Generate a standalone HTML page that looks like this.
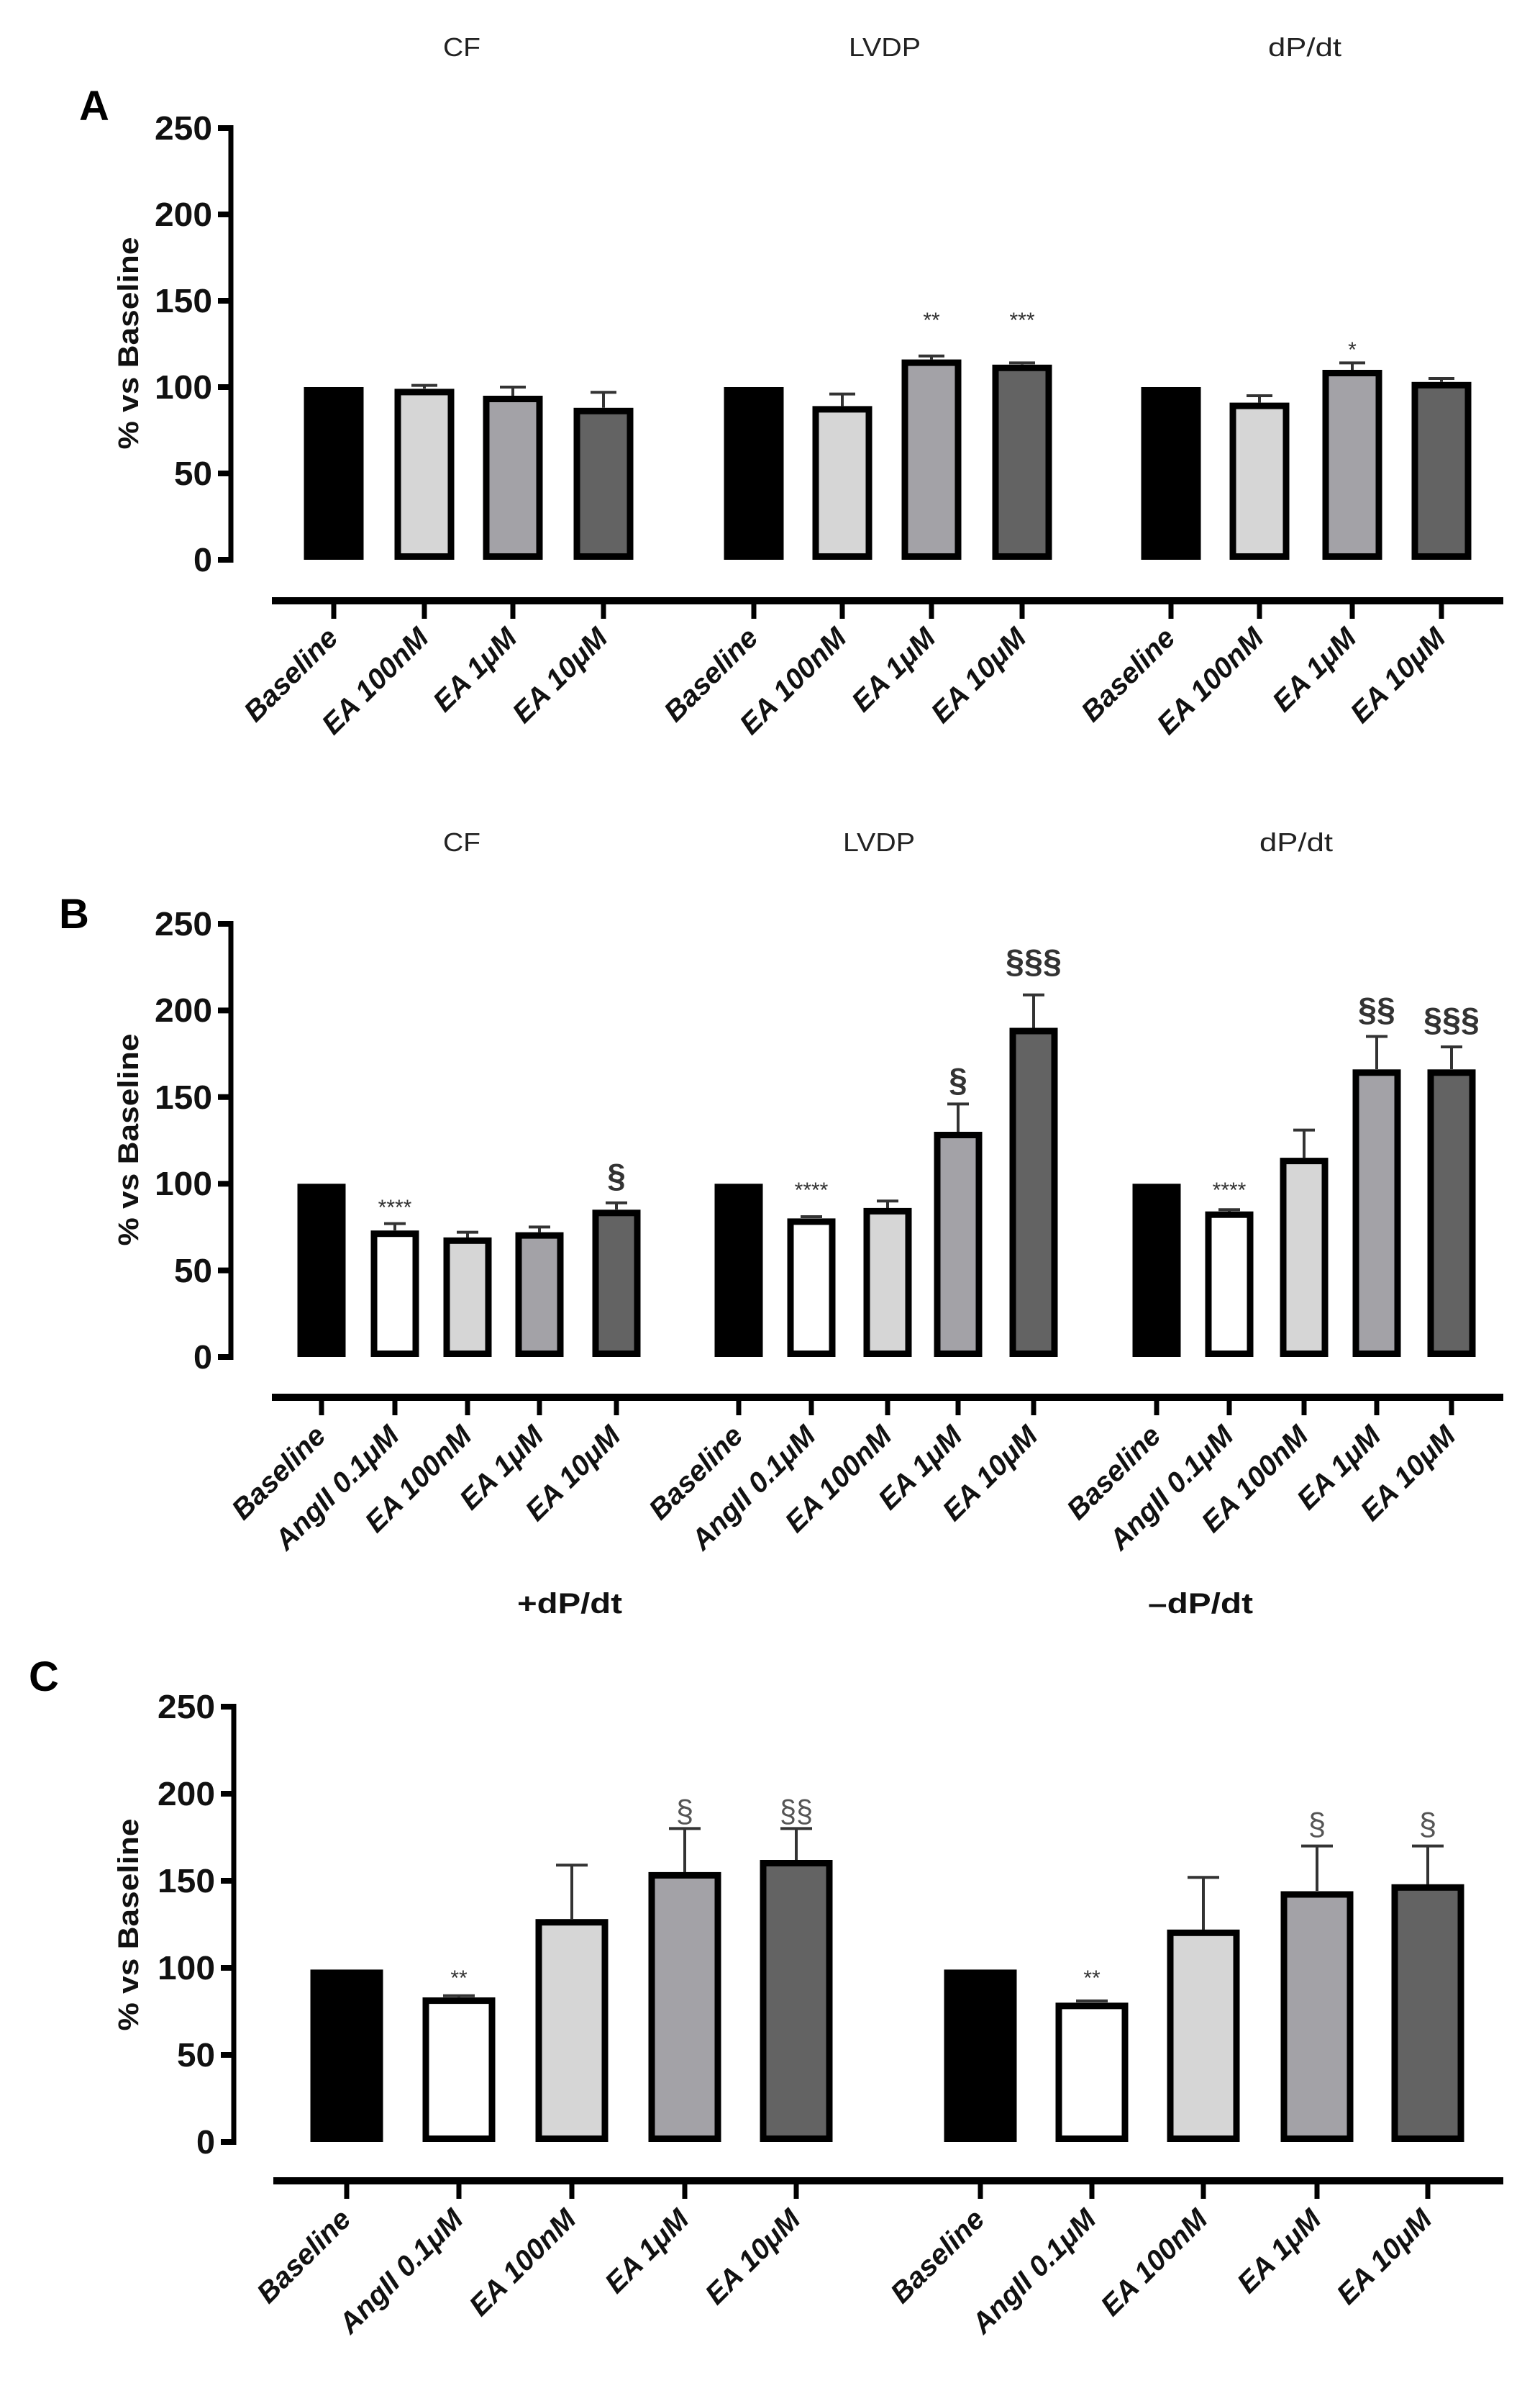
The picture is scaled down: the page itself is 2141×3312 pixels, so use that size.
<!DOCTYPE html>
<html><head><meta charset="utf-8"><style>html,body{margin:0;padding:0;background:#fff}svg{display:block}</style></head>
<body>
<svg width="2141" height="3312" viewBox="0 0 2141 3312" xmlns="http://www.w3.org/2000/svg" font-family="Liberation Sans, Arial, sans-serif">
<rect width="2141" height="3312" fill="#fff"/>

<!-- ================= PANEL A ================= -->
<g fill="#222" font-size="36">
<text x="642" y="78" text-anchor="middle" textLength="52" lengthAdjust="spacingAndGlyphs">CF</text>
<text x="1230" y="78" text-anchor="middle" textLength="100" lengthAdjust="spacingAndGlyphs">LVDP</text>
<text x="1814" y="78" text-anchor="middle" textLength="102" lengthAdjust="spacingAndGlyphs">dP/dt</text>
</g>
<text x="110" y="167" font-size="58" font-weight="bold">A</text>
<g stroke="#000" stroke-width="7"><line x1="321" y1="174" x2="321" y2="782"/></g>
<g stroke="#000" stroke-width="8">
<line x1="303" y1="778" x2="321" y2="778"/><line x1="303" y1="658" x2="321" y2="658"/><line x1="303" y1="538" x2="321" y2="538"/><line x1="303" y1="418" x2="321" y2="418"/><line x1="303" y1="298" x2="321" y2="298"/><line x1="303" y1="178" x2="321" y2="178"/>
</g>
<g font-size="46" font-weight="bold" fill="#111" text-anchor="end">
<text x="295" y="794" textLength="26" lengthAdjust="spacingAndGlyphs">0</text>
<text x="295" y="674" textLength="53" lengthAdjust="spacingAndGlyphs">50</text>
<text x="295" y="554" textLength="80" lengthAdjust="spacingAndGlyphs">100</text>
<text x="295" y="434" textLength="80" lengthAdjust="spacingAndGlyphs">150</text>
<text x="295" y="314" textLength="80" lengthAdjust="spacingAndGlyphs">200</text>
<text x="295" y="194" textLength="80" lengthAdjust="spacingAndGlyphs">250</text>
</g>
<text transform="translate(192,477) rotate(-90)" text-anchor="middle" font-size="40" font-weight="bold" fill="#111" textLength="295" lengthAdjust="spacingAndGlyphs">% vs Baseline</text>
<g stroke="#000" stroke-width="9">
<rect x="422.5" y="538" width="83" height="240" fill="#000" stroke="none"/>
<rect x="553" y="544.9" width="74" height="228.6" fill="#d6d6d6"/>
<rect x="676" y="554.5" width="74" height="219" fill="#a3a2a7"/>
<rect x="802" y="571.3" width="74" height="202.2" fill="#636363"/>
<rect x="1006.5" y="538" width="83" height="240" fill="#000" stroke="none"/>
<rect x="1134" y="568.9" width="74" height="204.6" fill="#d6d6d6"/>
<rect x="1258" y="504.1" width="74" height="269.4" fill="#a3a2a7"/>
<rect x="1384" y="511.3" width="74" height="262.2" fill="#636363"/>
<rect x="1586.5" y="538" width="83" height="240" fill="#000" stroke="none"/>
<rect x="1714" y="564.1" width="74" height="209.4" fill="#d6d6d6"/>
<rect x="1843" y="518.5" width="74" height="255" fill="#a3a2a7"/>
<rect x="1967" y="535.3" width="74" height="238.2" fill="#636363"/>
</g>
<g stroke="#333" stroke-width="4" fill="none">
<path d="M590 540V535.6M572 535.6H608"/>
<path d="M713 550V538M695 538H731"/>
<path d="M839 566.8V545.2M821 545.2H857"/>
<path d="M1171 564.4V547.6M1153 547.6H1189"/>
<path d="M1295 499.6V494.8M1277 494.8H1313"/>
<path d="M1421 506.8V504.4M1403 504.4H1439"/>
<path d="M1751 559.6V550M1733 550H1769"/>
<path d="M1880 514V504.4M1862 504.4H1898"/>
<path d="M2004 530.8V526M1986 526H2022"/>
</g>
<g font-size="30" fill="#333" text-anchor="middle">
<text x="1295" y="455">**</text><text x="1421" y="455">***</text><text x="1880" y="496">*</text>
</g>
<line x1="378" y1="835" x2="2090" y2="835" stroke="#000" stroke-width="10"/>
<g stroke="#000" stroke-width="7">
<path d="M464 835V860M590 835V860M713 835V860M839 835V860M1048 835V860M1171 835V860M1295 835V860M1421 835V860M1628 835V860M1751 835V860M1880 835V860M2004 835V860"/>
</g>
<g font-size="40" font-weight="bold" font-style="italic" fill="#111" text-anchor="end">
<text transform="translate(472,889) rotate(-45)">Baseline</text>
<text transform="translate(598,889) rotate(-45)">EA 100nM</text>
<text transform="translate(721,889) rotate(-45)">EA 1μM</text>
<text transform="translate(847,889) rotate(-45)">EA 10μM</text>
<text transform="translate(1056,889) rotate(-45)">Baseline</text>
<text transform="translate(1179,889) rotate(-45)">EA 100nM</text>
<text transform="translate(1303,889) rotate(-45)">EA 1μM</text>
<text transform="translate(1429,889) rotate(-45)">EA 10μM</text>
<text transform="translate(1636,889) rotate(-45)">Baseline</text>
<text transform="translate(1759,889) rotate(-45)">EA 100nM</text>
<text transform="translate(1888,889) rotate(-45)">EA 1μM</text>
<text transform="translate(2012,889) rotate(-45)">EA 10μM</text>
</g>

<!-- ================= PANEL B ================= -->
<g fill="#222" font-size="36">
<text x="642" y="1183" text-anchor="middle" textLength="52" lengthAdjust="spacingAndGlyphs">CF</text>
<text x="1222" y="1183" text-anchor="middle" textLength="100" lengthAdjust="spacingAndGlyphs">LVDP</text>
<text x="1802" y="1183" text-anchor="middle" textLength="102" lengthAdjust="spacingAndGlyphs">dP/dt</text>
</g>
<text x="82" y="1290" font-size="58" font-weight="bold">B</text>
<line x1="321" y1="1280" x2="321" y2="1890" stroke="#000" stroke-width="7"/>
<g stroke="#000" stroke-width="8">
<path d="M303 1886H321M303 1765.6H321M303 1645.2H321M303 1524.8H321M303 1404.4H321M303 1284H321"/>
</g>
<g font-size="46" font-weight="bold" fill="#111" text-anchor="end">
<text x="295" y="1902" textLength="26" lengthAdjust="spacingAndGlyphs">0</text>
<text x="295" y="1782" textLength="53" lengthAdjust="spacingAndGlyphs">50</text>
<text x="295" y="1661" textLength="80" lengthAdjust="spacingAndGlyphs">100</text>
<text x="295" y="1541" textLength="80" lengthAdjust="spacingAndGlyphs">150</text>
<text x="295" y="1420" textLength="80" lengthAdjust="spacingAndGlyphs">200</text>
<text x="295" y="1300" textLength="80" lengthAdjust="spacingAndGlyphs">250</text>
</g>
<text transform="translate(192,1584) rotate(-90)" text-anchor="middle" font-size="40" font-weight="bold" fill="#111" textLength="295" lengthAdjust="spacingAndGlyphs">% vs Baseline</text>
<g stroke="#000" stroke-width="9">
<rect x="413.5" y="1645.2" width="67" height="240.8" fill="#000" stroke="none"/>
<rect x="520" y="1714.7" width="58" height="166.8" fill="#fff"/>
<rect x="621" y="1724.3" width="58" height="157.2" fill="#d6d6d6"/>
<rect x="721" y="1717.1" width="58" height="164.4" fill="#a3a2a7"/>
<rect x="828" y="1685.8" width="58" height="195.7" fill="#636363"/>
<rect x="993.5" y="1645.2" width="67" height="240.8" fill="#000" stroke="none"/>
<rect x="1099" y="1697.9" width="58" height="183.6" fill="#fff"/>
<rect x="1205" y="1683.4" width="58" height="198.1" fill="#d6d6d6"/>
<rect x="1303" y="1577.5" width="58" height="304" fill="#a3a2a7"/>
<rect x="1408" y="1433" width="58" height="448.5" fill="#636363"/>
<rect x="1574.5" y="1645.2" width="67" height="240.8" fill="#000" stroke="none"/>
<rect x="1680" y="1688.2" width="58" height="193.3" fill="#fff"/>
<rect x="1784" y="1613.6" width="58" height="267.9" fill="#d6d6d6"/>
<rect x="1885" y="1490.8" width="58" height="390.7" fill="#a3a2a7"/>
<rect x="1989" y="1490.8" width="58" height="390.7" fill="#636363"/>
</g>
<g stroke="#333" stroke-width="4" fill="none">
<path d="M549 1710V1700.6M534 1700.6H564"/>
<path d="M650 1720V1712.6M635 1712.6H665"/>
<path d="M750 1712.6V1705.4M735 1705.4H765"/>
<path d="M857 1681V1671.7M842 1671.7H872"/>
<path d="M1128 1693V1691M1113 1691H1143"/>
<path d="M1234 1679V1669.3M1219 1669.3H1249"/>
<path d="M1332 1573V1534.4M1317 1534.4H1347"/>
<path d="M1437 1428.5V1382.7M1422 1382.7H1452"/>
<path d="M1709 1684V1681.3M1694 1681.3H1724"/>
<path d="M1813 1609V1570.6M1798 1570.6H1828"/>
<path d="M1914 1486V1440.5M1899 1440.5H1929"/>
<path d="M2018 1486V1455M2003 1455H2033"/>
</g>
<g font-size="30" fill="#333" text-anchor="middle">
<text x="549" y="1688">****</text><text x="1128" y="1664">****</text><text x="1709" y="1664">****</text>
</g>
<g font-size="46" font-weight="bold" fill="#333" text-anchor="middle">
<text x="857" y="1650">§</text><text x="1332" y="1517">§</text><text x="1437" y="1352" textLength="78" lengthAdjust="spacingAndGlyphs">§§§</text>
<text x="1914" y="1419" textLength="52" lengthAdjust="spacingAndGlyphs">§§</text><text x="2018" y="1433" textLength="78" lengthAdjust="spacingAndGlyphs">§§§</text>
</g>
<line x1="378" y1="1942" x2="2090" y2="1942" stroke="#000" stroke-width="10"/>
<g stroke="#000" stroke-width="7">
<path d="M447 1942V1967M549 1942V1967M650 1942V1967M750 1942V1967M857 1942V1967M1027 1942V1967M1128 1942V1967M1234 1942V1967M1332 1942V1967M1437 1942V1967M1608 1942V1967M1709 1942V1967M1813 1942V1967M1914 1942V1967M2018 1942V1967"/>
</g>
<g font-size="40" font-weight="bold" font-style="italic" fill="#111" text-anchor="end">
<text transform="translate(455,1998) rotate(-45)">Baseline</text>
<text transform="translate(557,1998) rotate(-45)">AngII 0.1μM</text>
<text transform="translate(658,1998) rotate(-45)">EA 100nM</text>
<text transform="translate(758,1998) rotate(-45)">EA 1μM</text>
<text transform="translate(865,1998) rotate(-45)">EA 10μM</text>
<text transform="translate(1035,1998) rotate(-45)">Baseline</text>
<text transform="translate(1136,1998) rotate(-45)">AngII 0.1μM</text>
<text transform="translate(1242,1998) rotate(-45)">EA 100nM</text>
<text transform="translate(1340,1998) rotate(-45)">EA 1μM</text>
<text transform="translate(1445,1998) rotate(-45)">EA 10μM</text>
<text transform="translate(1616,1998) rotate(-45)">Baseline</text>
<text transform="translate(1717,1998) rotate(-45)">AngII 0.1μM</text>
<text transform="translate(1821,1998) rotate(-45)">EA 100nM</text>
<text transform="translate(1922,1998) rotate(-45)">EA 1μM</text>
<text transform="translate(2026,1998) rotate(-45)">EA 10μM</text>
</g>

<!-- ================= PANEL C ================= -->
<g fill="#111" font-size="40" font-weight="bold" text-anchor="middle">
<text x="792" y="2242" textLength="146" lengthAdjust="spacingAndGlyphs">+dP/dt</text>
<text x="1669" y="2242" textLength="146" lengthAdjust="spacingAndGlyphs">–dP/dt</text>
</g>
<text x="40" y="2350" font-size="58" font-weight="bold">C</text>
<line x1="325" y1="2368" x2="325" y2="2981" stroke="#000" stroke-width="7"/>
<g stroke="#000" stroke-width="8">
<path d="M307 2977H325M307 2856H325M307 2735H325M307 2614H325M307 2493H325M307 2372H325"/>
</g>
<g font-size="46" font-weight="bold" fill="#111" text-anchor="end">
<text x="299" y="2993" textLength="26" lengthAdjust="spacingAndGlyphs">0</text>
<text x="299" y="2872" textLength="53" lengthAdjust="spacingAndGlyphs">50</text>
<text x="299" y="2751" textLength="80" lengthAdjust="spacingAndGlyphs">100</text>
<text x="299" y="2630" textLength="80" lengthAdjust="spacingAndGlyphs">150</text>
<text x="299" y="2509" textLength="80" lengthAdjust="spacingAndGlyphs">200</text>
<text x="299" y="2388" textLength="80" lengthAdjust="spacingAndGlyphs">250</text>
</g>
<text transform="translate(192,2675) rotate(-90)" text-anchor="middle" font-size="40" font-weight="bold" fill="#111" textLength="295" lengthAdjust="spacingAndGlyphs">% vs Baseline</text>
<g stroke="#000" stroke-width="9">
<rect x="431.5" y="2737.4" width="101" height="239.6" fill="#000" stroke="none"/>
<rect x="592" y="2780.6" width="92" height="191.9" fill="#fff"/>
<rect x="749" y="2671.7" width="92" height="300.8" fill="#d6d6d6"/>
<rect x="906" y="2606.4" width="92" height="366.1" fill="#a3a2a7"/>
<rect x="1061" y="2589.5" width="92" height="383" fill="#636363"/>
<rect x="1312.5" y="2737.4" width="101" height="239.6" fill="#000" stroke="none"/>
<rect x="1472" y="2787.9" width="92" height="184.6" fill="#fff"/>
<rect x="1627" y="2686.3" width="92" height="286.2" fill="#d6d6d6"/>
<rect x="1785" y="2633" width="92" height="339.5" fill="#a3a2a7"/>
<rect x="1939" y="2623.3" width="92" height="349.2" fill="#636363"/>
</g>
<g stroke="#333" stroke-width="4" fill="none">
<path d="M638 2776V2773.7M616 2773.7H660"/>
<path d="M795 2667V2592.2M773 2592.2H817"/>
<path d="M952 2602V2541.4M930 2541.4H974"/>
<path d="M1107 2585V2541.4M1085 2541.4H1129"/>
<path d="M1518 2783V2781M1496 2781H1540"/>
<path d="M1673 2682V2609.2M1651 2609.2H1695"/>
<path d="M1831 2628V2565.6M1809 2565.6H1853"/>
<path d="M1985 2619V2565.6M1963 2565.6H2007"/>
</g>
<g font-size="30" fill="#333" text-anchor="middle">
<text x="638" y="2759">**</text><text x="1518" y="2759">**</text>
</g>
<g font-size="44" fill="#555" text-anchor="middle">
<text x="952" y="2532">§</text><text x="1107" y="2532" textLength="46" lengthAdjust="spacingAndGlyphs">§§</text>
<text x="1831" y="2550">§</text><text x="1985" y="2550">§</text>
</g>
<line x1="380" y1="3031" x2="2090" y2="3031" stroke="#000" stroke-width="10"/>
<g stroke="#000" stroke-width="7">
<path d="M482 3031V3056M638 3031V3056M795 3031V3056M952 3031V3056M1107 3031V3056M1363 3031V3056M1518 3031V3056M1673 3031V3056M1831 3031V3056M1985 3031V3056"/>
</g>
<g font-size="40" font-weight="bold" font-style="italic" fill="#111" text-anchor="end">
<text transform="translate(490,3087) rotate(-45)">Baseline</text>
<text transform="translate(646,3087) rotate(-45)">AngII 0.1μM</text>
<text transform="translate(803,3087) rotate(-45)">EA 100nM</text>
<text transform="translate(960,3087) rotate(-45)">EA 1μM</text>
<text transform="translate(1115,3087) rotate(-45)">EA 10μM</text>
<text transform="translate(1371,3087) rotate(-45)">Baseline</text>
<text transform="translate(1526,3087) rotate(-45)">AngII 0.1μM</text>
<text transform="translate(1681,3087) rotate(-45)">EA 100nM</text>
<text transform="translate(1839,3087) rotate(-45)">EA 1μM</text>
<text transform="translate(1993,3087) rotate(-45)">EA 10μM</text>
</g>
</svg>
</body></html>
